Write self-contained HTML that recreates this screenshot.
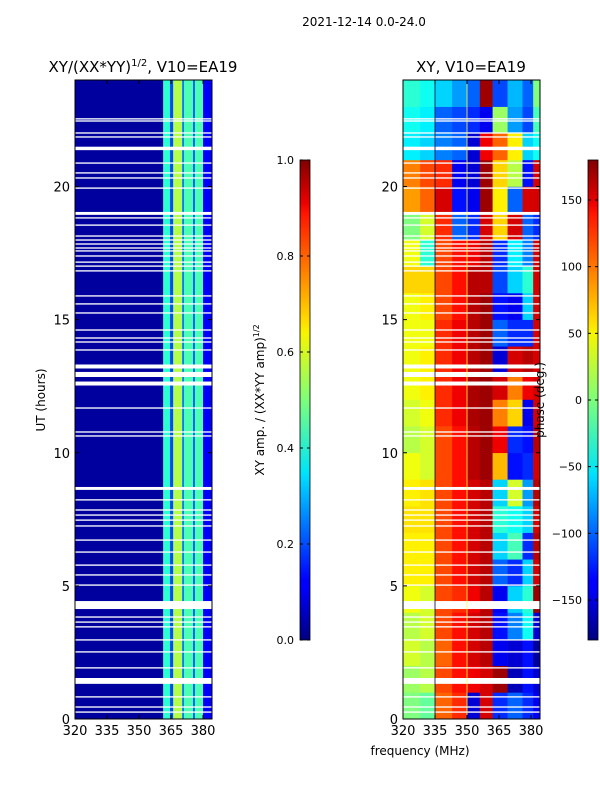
<!DOCTYPE html>
<html><head><meta charset="utf-8"><style>
body{margin:0;background:#fff;}
svg{display:block;font-family:"DejaVu Sans","Liberation Sans",sans-serif;}
</style></head><body>
<svg id="fig" width="600" height="800" viewBox="0 0 600 800" xmlns="http://www.w3.org/2000/svg">
<defs>
<linearGradient id="jet" x1="0" y1="1" x2="0" y2="0">
<stop offset="0" stop-color="#00007f"/><stop offset="0.11" stop-color="#0000ff"/><stop offset="0.125" stop-color="#0000ff"/>
<stop offset="0.34" stop-color="#00dcff"/><stop offset="0.35" stop-color="#00e5f8"/><stop offset="0.5" stop-color="#7dff7a"/>
<stop offset="0.64" stop-color="#f8f500"/><stop offset="0.66" stop-color="#ffe000"/><stop offset="0.89" stop-color="#ff1300"/>
<stop offset="0.91" stop-color="#ed0000"/><stop offset="1" stop-color="#7f0000"/>
</linearGradient>
</defs>
<text x="364" y="26" font-size="12" text-anchor="middle">2021-12-14 0.0-24.0</text>
<g id="left"></g>
<g id="right"></g>
<g id="cb"></g>
<text x="143" y="72" font-size="15" text-anchor="middle">XY/(XX*YY)<tspan font-size="10" dy="-6">1/2</tspan><tspan dy="6">, V10=EA19</tspan></text>
<text x="471" y="72" font-size="15" text-anchor="middle">XY, V10=EA19</text>
<text transform="translate(45,400) rotate(-90)" font-size="12" text-anchor="middle">UT (hours)</text>
<text x="420" y="755" font-size="12" text-anchor="middle">frequency (MHz)</text>
<text transform="translate(264,400) rotate(-90)" font-size="12" text-anchor="middle">XY amp. / (XX*YY amp)<tspan font-size="8" dy="-5">1/2</tspan></text>
<text transform="translate(544,400) rotate(-90)" font-size="12" text-anchor="middle">phase (deg.)</text>
</svg>
<script>
const freqTicks=[320,335,350,365,380];
const timeTicks=[0,5,10,15,20];
const ampTicks=[0.0,0.2,0.4,0.6,0.8,1.0];
const phaseTicks=[-150,-100,-50,0,50,100,150];
// amplitude per frequency band
const ampEdges=[320,361.3,364.5,366,370.2,371.1,375.3,376.2,380,384.2];
const ampValues=[0.03,0.42,0.2,0.55,0.25,0.45,0.22,0.45,0.12];
// phase per hour (rows, 0..23) x frequency band
const phaseEdges=[320,328,335,343,350,356,362,369,376,381,384.2];
const phaseValues=[
[0,-10,100,120,-150,150,-120,-100,-120,-140],
[10,20,110,130,140,150,170,-160,-130,-150],
[30,20,100,130,150,160,-140,-150,-130,-170],
[20,30,110,130,150,160,-130,-90,-40,-150],
[40,30,110,120,140,160,-140,-60,-30,170],
[50,50,110,130,150,160,-100,-120,-60,150],
[50,50,110,130,150,160,-60,-20,-120,160],
[55,55,110,130,150,160,-30,-40,-60,150],
[50,55,110,130,150,160,-60,30,-80,160],
[40,30,110,130,160,170,70,-130,-120,150],
[20,30,110,130,160,170,140,-120,-130,160],
[30,40,120,140,165,170,90,60,-140,150],
[40,50,120,140,165,170,150,90,140,150],
[40,50,120,140,160,170,-150,150,160,150],
[40,40,120,140,160,170,-100,-120,-120,150],
[40,50,110,130,160,170,-130,-140,-60,150],
[60,60,110,130,160,160,-110,-60,-30,150],
[40,-30,110,130,140,160,-120,-50,-90,150],
[0,30,120,-100,-120,150,60,150,-100,-120],
[80,100,150,-130,-140,170,50,-100,150,150],
[90,110,120,-140,-150,170,60,20,-130,150],
[-50,-60,-90,-100,-150,140,100,50,-60,-40],
[-40,-50,-100,-110,-120,-140,10,-80,-110,-20],
[-30,-40,-60,-80,-100,170,-110,-70,-100,0]];
// flagged (blank) time ranges: centre hour and width in hours
const gapCenters=[22.54,22.46,22.01,21.86,21.43,20.88,20.51,20.32,19.94,18.99,18.82,18.55,18.14,17.99,17.84,17.69,17.58,17.39,17.16,17.01,16.83,15.89,15.59,15.25,14.61,14.31,14.16,13.86,13.24,12.94,12.6,11.68,10.78,10.63,8.66,8.23,7.85,7.66,7.47,7.25,6.72,6.27,5.78,5.41,5.03,4.28,3.83,3.64,3.46,2.97,2.52,1.92,1.43,0.83,0.45,0.26];
const gapWidths=[0.05,0.05,0.05,0.05,0.13,0.05,0.05,0.05,0.05,0.11,0.05,0.05,0.05,0.05,0.05,0.05,0.05,0.05,0.05,0.05,0.05,0.05,0.05,0.05,0.05,0.05,0.05,0.05,0.15,0.19,0.15,0.05,0.05,0.05,0.11,0.05,0.05,0.05,0.05,0.05,0.05,0.05,0.05,0.05,0.05,0.3,0.05,0.05,0.05,0.05,0.05,0.05,0.22,0.05,0.05,0.05];

const NS='http://www.w3.org/2000/svg';
const T0=80,T1=719,FMIN=320,FMAX=384.2;
function yS(h){return T1-(h/24)*(T1-T0);}
function mk(p,tag,at){const e=document.createElementNS(NS,tag);for(const k in at)e.setAttribute(k,at[k]);p.appendChild(e);return e;}
function jet(v){v=Math.max(0,Math.min(1,v));
 const r=Math.min(4*v-1.5,-4*v+4.5),g=Math.min(4*v-0.5,-4*v+3.5),b=Math.min(4*v+0.5,-4*v+2.5);
 const c=x=>Math.round(255*Math.max(0,Math.min(1,x)));return `rgb(${c(r)},${c(g)},${c(b)})`;}

function panel(gid,x0,x1,cells,vlines){
 const g=document.getElementById(gid);
 const xS=f=>x0+(f-FMIN)/(FMAX-FMIN)*(x1-x0);
 cells(g,xS);
 for(let i=0;i<gapCenters.length;i++){
  const r=mk(g,'rect',{x:x0,y:yS(gapCenters[i]+gapWidths[i]/2),width:x1-x0,height:Math.max(1.3,yS(0)-yS(gapWidths[i])),fill:'#fff'});
  
  
 }
 (vlines||[]).forEach(v=>{mk(g,'line',{x1:xS(v[0]),x2:xS(v[0]),y1:T0,y2:T1,stroke:v[1],'stroke-width':1,opacity:0.8});});
 const fr=mk(g,'rect',{x:x0,y:T0,width:x1-x0,height:T1-T0,fill:'none',stroke:'#000','stroke-width':1});
 
 
 freqTicks.forEach(f=>{const x=xS(f);
  mk(g,'line',{x1:x,x2:x,y1:T1,y2:T1-4,stroke:'#000'});mk(g,'line',{x1:x,x2:x,y1:T0,y2:T0+4,stroke:'#000'});
  const t=mk(g,'text',{x:x,y:T1+16,'font-size':13,'text-anchor':'middle'});t.textContent=f;
  
  });
 timeTicks.forEach(h=>{const y=yS(h);
  mk(g,'line',{x1:x0,x2:x0+4,y1:y,y2:y,stroke:'#000'});mk(g,'line',{x1:x1,x2:x1-4,y1:y,y2:y,stroke:'#000'});
  const t=mk(g,'text',{x:x0-5,y:y+5,'font-size':13,'text-anchor':'end'});t.textContent=h;
  
  });
}
panel('left',75,212,(g,xS)=>{
 for(let i=0;i<ampValues.length;i++){
  const r=mk(g,'rect',{x:xS(ampEdges[i]),y:T0,width:xS(ampEdges[i+1])-xS(ampEdges[i])+0.3,height:T1-T0,fill:jet(ampValues[i])});
  
  
 }});
panel('right',403,540,(g,xS)=>{
 for(let h=0;h<phaseValues.length;h++)for(let j=0;j<phaseValues[h].length;j++){
  const r=mk(g,'rect',{x:xS(phaseEdges[j]),y:yS(h+1),width:xS(phaseEdges[j+1])-xS(phaseEdges[j])+0.3,height:yS(h)-yS(h+1)+0.3,fill:jet((phaseValues[h][j]+180)/360)});
  
  
 }},[[335,'#000040'],[350,'#ffff40']]);

function colorbar(x,vmin,vmax,ticks,fmt){
 const g=document.getElementById('cb');const Y0=160,Y1=640;
 const r=mk(g,'rect',{x:x,y:Y0,width:10,height:Y1-Y0,fill:'url(#jet)',stroke:'#000','stroke-width':0.8});
 
 
 ticks.forEach(v=>{const y=Y1-(v-vmin)/(vmax-vmin)*(Y1-Y0);
  mk(g,'line',{x1:x,x2:x+3,y1:y,y2:y,stroke:'#000'});mk(g,'line',{x1:x+10,x2:x+7,y1:y,y2:y,stroke:'#000'});
  const t=mk(g,'text',{x:x-6,y:y+4,'font-size':11,'text-anchor':'end'});t.textContent=fmt(v);
  
  });
}
colorbar(300,0,1,ampTicks,v=>v.toFixed(1));
colorbar(588,-180,180,phaseTicks,v=>v<0?'\u2212'+(-v):String(v));
</script>
</body></html>
